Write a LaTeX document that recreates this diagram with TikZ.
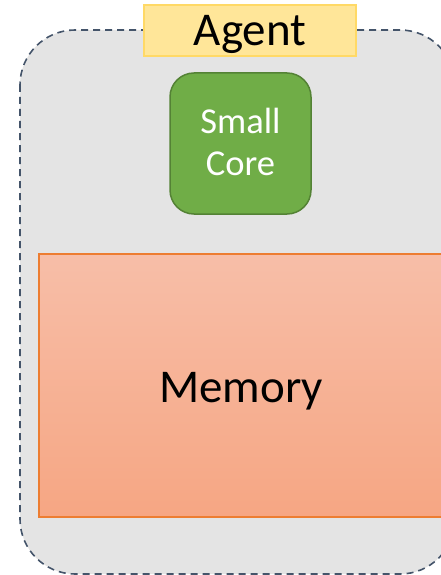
\documentclass[tikz,border=0pt]{standalone}
\usepackage{fontspec}
\setmainfont{Carlito}
\definecolor{agentfill}{HTML}{E4E4E4}
\definecolor{agentline}{HTML}{44546A}
\definecolor{labelfill}{HTML}{FFE699}
\definecolor{labelline}{HTML}{FFD966}
\definecolor{corefill}{HTML}{70AD47}
\definecolor{coreline}{HTML}{548235}
\definecolor{memtop}{HTML}{F7BEA8}
\definecolor{membot}{HTML}{F6A683}
\definecolor{memline}{HTML}{ED7D31}
\tikzset{
  agentbox/.style={fill=agentfill, draw=agentline, line width=1.6pt, dash pattern=on 7pt off 5pt, rounded corners=55pt},
  titlebox/.style={fill=labelfill, draw=labelline, line width=1.5pt, minimum width=212pt, minimum height=51pt, inner sep=0pt},
  corebox/.style={fill=corefill, draw=coreline, line width=1.5pt, rounded corners=24pt, minimum width=141pt, minimum height=141pt, inner sep=0pt},
  memorybox/.style={top color=memtop, bottom color=membot, draw=memline, line width=1.5pt, minimum width=404pt, minimum height=263pt, inner sep=0pt},
  bigtext/.style={anchor=base, inner sep=0pt, font=\fontsize{47}{50}\selectfont},
  coretext/.style={anchor=base, inner sep=0pt, text=white, font=\fontsize{36.5}{42}\selectfont}
}
\begin{document}
\begin{tikzpicture}[x=1pt, y=-1pt]
  \useasboundingbox (0,0) rectangle (441,575);
  \clip (0,0) rectangle (441,575);
  % outer agent container
  \draw[agentbox] (20,30) rectangle (455,574);
  % memory block
  \node[memorybox] (memory) at (241,385.5) {};
  \node[bigtext] (memtext) at (241,402) {Memory};
  % small core
  \node[corebox] (core) at (240.5,143.5) {};
  \node[coretext] (coreA) at (240.5,133) {Small};
  \node[coretext] (coreB) at (240.5,175) {Core};
  % title
  \node[titlebox] (title) at (250,30.5) {};
  \node[bigtext] (titletext) at (250,46) {Agent};
\end{tikzpicture}
\end{document}
